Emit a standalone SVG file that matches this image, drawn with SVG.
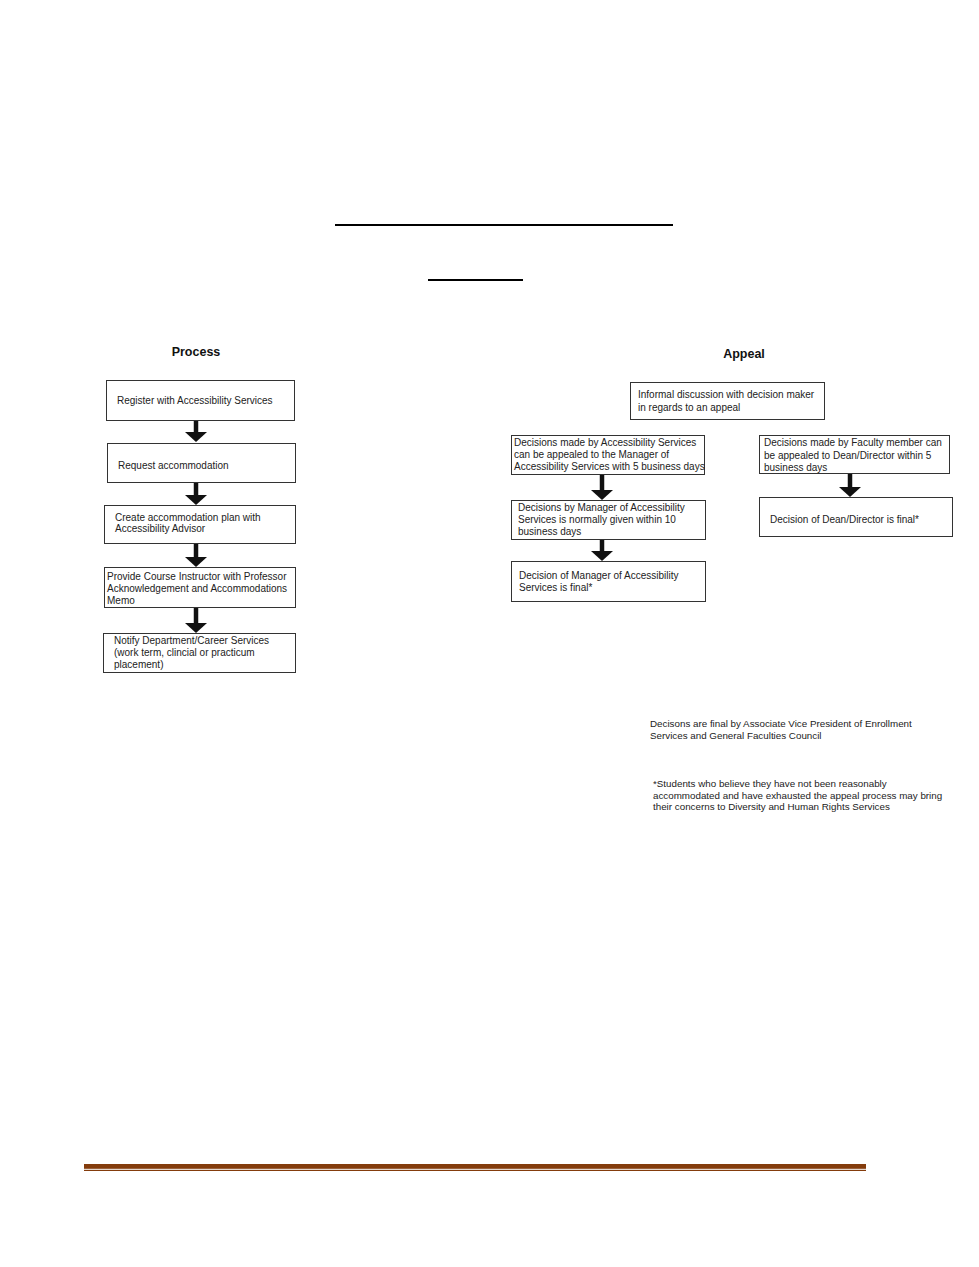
<svg xmlns="http://www.w3.org/2000/svg" width="979" height="1267" viewBox="0 0 979 1267">
<defs>
<style>
text{font-family:"Liberation Sans",Arial,sans-serif;font-size:10px;fill:#222}
.h{font-size:12.5px;font-weight:bold;fill:#111}
.n{font-size:9.8px}
.box{fill:#fff;stroke:#333;stroke-width:1}
.arr{stroke:#111;stroke-width:4.5;fill:none;marker-end:url(#ah)}
</style>
<marker id="ah" markerUnits="userSpaceOnUse" viewBox="0 -11 10 22" refX="0" refY="0" markerWidth="10" markerHeight="22" orient="auto">
<path d="M0,-11 L10,0 L0,11 z" fill="#111"/>
</marker>
</defs>
<rect width="979" height="1267" fill="#fff"/>
<g id="rules">
<line x1="335" y1="225" x2="673" y2="225" stroke="#000" stroke-width="2"/>
<line x1="428" y1="280" x2="523" y2="280" stroke="#000" stroke-width="2"/>
<rect x="84" y="1164" width="782" height="4.8" fill="#843c0c"/>
<rect x="84" y="1169.8" width="782" height="1.2" fill="#843c0c"/>
</g>
<g id="titles">
<text class="h" x="196" y="356" text-anchor="middle">Process</text>
<text class="h" x="744" y="358" text-anchor="middle">Appeal</text>
</g>
<g id="connectors">
<line class="arr" x1="196" y1="420" x2="196" y2="432"/>
<line class="arr" x1="196" y1="483" x2="196" y2="495"/>
<line class="arr" x1="196" y1="544" x2="196" y2="557"/>
<line class="arr" x1="196" y1="608" x2="196" y2="623"/>
<line class="arr" x1="602" y1="474" x2="602" y2="490"/>
<line class="arr" x1="602" y1="539" x2="602" y2="551"/>
<line class="arr" x1="850" y1="473" x2="850" y2="487"/>
</g>
<g id="p1"><rect class="box" x="106.5" y="380.5" width="188" height="40"/>
<text x="117" y="403.5">Register with Accessibility Services</text></g>
<g id="p2"><rect class="box" x="107.5" y="443.5" width="188" height="39"/>
<text x="118" y="468.5">Request accommodation</text></g>
<g id="p3"><rect class="box" x="104.5" y="505.5" width="191" height="38"/>
<text x="115" y="520.5">Create accommodation plan with</text>
<text x="115" y="531.5">Accessibility Advisor</text></g>
<g id="p4"><rect class="box" x="104.5" y="567.5" width="191" height="40"/>
<text x="107" y="579.5">Provide Course Instructor with Professor</text>
<text x="107" y="591.5">Acknowledgement and Accommodations</text>
<text x="107" y="603.5">Memo</text></g>
<g id="p5"><rect class="box" x="103.5" y="633.5" width="192" height="39"/>
<text x="114" y="643.5">Notify Department/Career Services</text>
<text x="114" y="655.5">(work term, clincial or practicum</text>
<text x="114" y="667.5">placement)</text></g>
<g id="a0"><rect class="box" x="630.5" y="382.5" width="194" height="37"/>
<text x="638" y="397.5">Informal discussion with decision maker</text>
<text x="638" y="410.5">in regards to an appeal</text></g>
<g id="a1"><rect class="box" x="511.5" y="435.5" width="193" height="39"/>
<text x="514" y="445.5">Decisions made by Accessibility Services</text>
<text x="514" y="457.5">can be appealed to the Manager of</text>
<text x="514" y="469.5">Accessibility Services with 5 business days</text></g>
<g id="a2"><rect class="box" x="511.5" y="500.5" width="194" height="39"/>
<text x="518" y="510.5">Decisions by Manager of Accessibility</text>
<text x="518" y="522.5">Services is normally given within 10</text>
<text x="518" y="534.5">business days</text></g>
<g id="a3"><rect class="box" x="511.5" y="561.5" width="194" height="40"/>
<text x="519" y="579">Decision of Manager of Accessibility</text>
<text x="519" y="590.5">Services is final*</text></g>
<g id="b1"><rect class="box" x="759.5" y="435.5" width="190" height="38"/>
<text x="764" y="445.5">Decisions made by Faculty member can</text>
<text x="764" y="458.5">be appealed to Dean/Director within 5</text>
<text x="764" y="470.5">business days</text></g>
<g id="b2"><rect class="box" x="759.5" y="497.5" width="193" height="39"/>
<text x="770" y="522.5">Decision of Dean/Director is final*</text></g>
<g id="notes">
<text class="n" x="650" y="726.5">Decisons are final by Associate Vice President of Enrollment</text>
<text class="n" x="650" y="738.5">Services and General Faculties Council</text>
<text class="n" x="653" y="786.5">*Students who believe they have not been reasonably</text>
<text class="n" x="653" y="798.5">accommodated and have exhausted the appeal process may bring</text>
<text class="n" x="653" y="809.5">their concerns to Diversity and Human Rights Services</text>
</g>
</svg>
